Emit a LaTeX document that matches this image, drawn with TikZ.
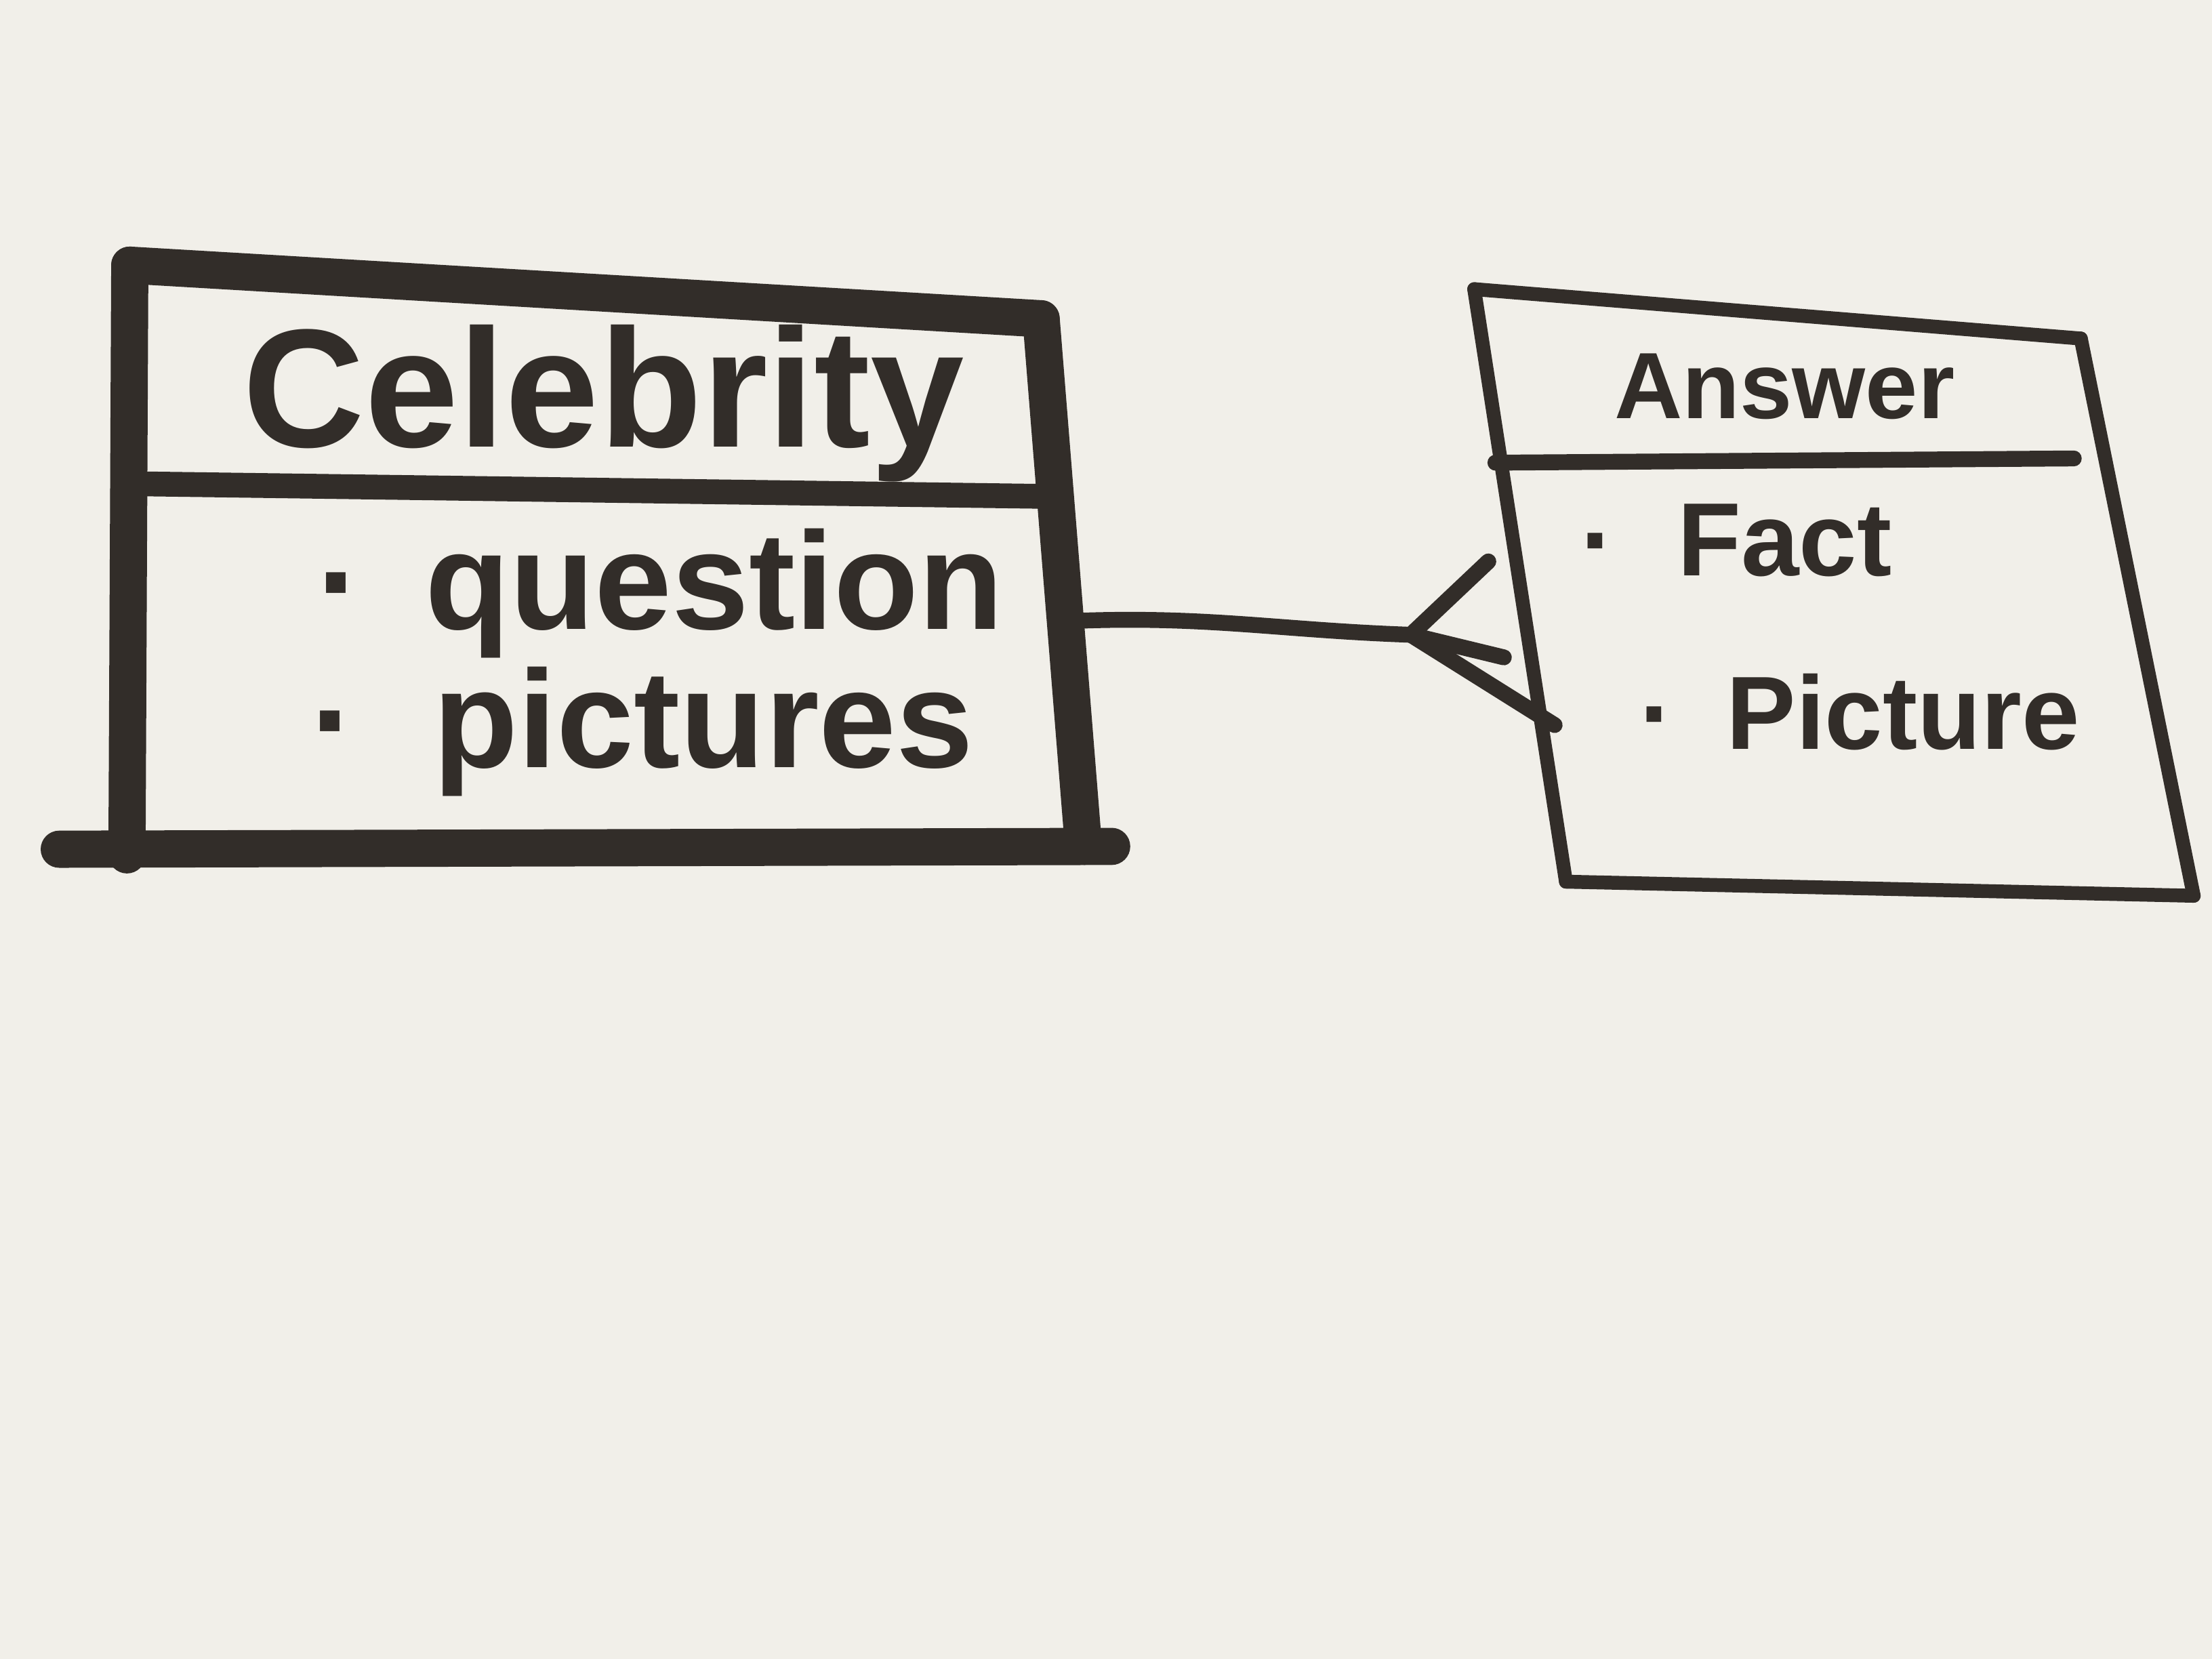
\documentclass[tikz,border=0pt]{standalone}
\usepackage{fontspec}
\setmainfont{Liberation Sans}
\usetikzlibrary{positioning}
\definecolor{paper}{RGB}{241,239,233}
\definecolor{ink}{RGB}{50,45,41}

\begin{document}
\begin{tikzpicture}[line cap=round,line join=round,
  thickink/.style={draw=ink,line width=7.5pt},
  thinink/.style={draw=ink,line width=2.8pt},
  title/.style={font=\bfseries\fontsize{34}{40}\selectfont,text=ink},
  item/.style={font=\bfseries\fontsize{28}{33}\selectfont,text=ink,anchor=base west}]
\fill[paper] (0,0) rectangle (15.68,11.76);
\useasboundingbox (0,0) rectangle (15.68,11.76);

% Celebrity box corners
\coordinate (c-nw) at (0.92,9.88);
\coordinate (c-ne) at (7.38,9.50);
\coordinate (c-se) at (7.68,5.76);
\coordinate (c-sw) at (0.90,5.70);
\coordinate (c-bl) at (0.42,5.74);
\coordinate (c-br) at (7.88,5.76);
\coordinate (c-dl) at (1.00,8.33);
\coordinate (c-dr) at (7.48,8.24);
\coordinate (c-out) at (7.66,7.36);

% Answer box corners
\coordinate (a-nw) at (10.45,9.71);
\coordinate (a-ne) at (14.75,9.36);
\coordinate (a-se) at (15.55,5.41);
\coordinate (a-sw) at (11.10,5.51);
\coordinate (a-dl) at (10.60,8.48);
\coordinate (a-dr) at (14.70,8.51);

% crow's foot
\coordinate (foot) at (10.00,7.26);
\coordinate (a-p1) at (10.55,7.78);
\coordinate (a-p2) at (10.66,7.10);
\coordinate (a-p3) at (11.02,6.62);

\node[title] (celname) at (4.28,8.90){Celebrity};
\node[item] (celq) at (2.12,7.30){·\hspace{0.45em}question};
\node[item] (celp) at (2.08,6.32){·\hspace{0.55em}pictures};

\node[title,font=\bfseries\fontsize{19}{23}\selectfont] (ansname) at (12.65,9.02){Answer};
\node[item,font=\bfseries\fontsize{21}{25}\selectfont] (ansfact) at (11.08,7.68){·\hspace{0.6em}Fact};
\node[item,font=\bfseries\fontsize{21}{25}\selectfont] (anspic) at (11.50,6.45){·\hspace{0.5em}Picture};

\draw[thickink] (c-nw) to (c-sw);
\draw[thickink] (c-nw) to (c-ne);
\draw[thickink] (c-ne) to (c-se);
\draw[thickink] (c-bl) to (c-br);
\draw[thickink,line width=5pt] (c-dl) to (c-dr);

\draw[thinink] (a-nw) to (a-sw);
\draw[thinink] (a-nw) to (a-ne);
\draw[thinink] (a-ne) to (a-se);
\draw[thinink] (a-sw) to (a-se);
\draw[thinink,line width=3.2pt] (a-dl) to (a-dr);

\draw[thinink,line width=3.2pt] (c-out) to[out=2,in=178] (foot);
\draw[thinink,line width=3.2pt] (foot) to (a-p1);
\draw[thinink,line width=3.2pt] (foot) to (a-p2);
\draw[thinink,line width=3.2pt] (foot) to (a-p3);

\end{tikzpicture}
\end{document}
